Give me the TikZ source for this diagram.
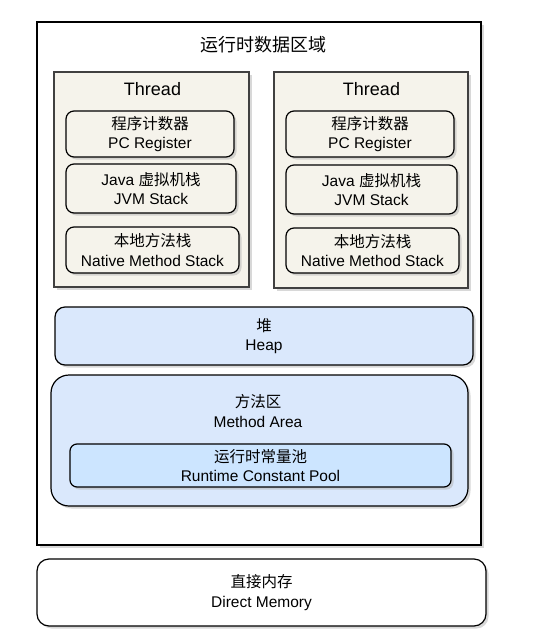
\documentclass[tikz,border=0pt]{standalone}
\usepackage{fontspec}
\setmainfont{Liberation Sans}
\newfontfamily\cjk{Noto Sans CJK SC}
\usetikzlibrary{shadows}
\definecolor{threadfill}{HTML}{F5F3EB}
\definecolor{heapfill}{HTML}{DAE8FC}
\definecolor{poolfill}{HTML}{CCE5FF}
\begin{document}
\begin{tikzpicture}[x=1pt,y=-1pt,
  box/.style={draw, line width=1.2pt, inner sep=0pt, align=center,
    font=\fontsize{15.5}{19.5}\selectfont,
    drop shadow={shadow xshift=2.5pt, shadow yshift=-2.5pt, fill=black!30}},
  threadbox/.style={box, draw=black!75, fill=threadfill},
  regbox/.style={box, fill=threadfill, rounded corners=8pt},
  heapbox/.style={box, fill=heapfill, rounded corners=10pt},
  poolbox/.style={box, fill=poolfill, rounded corners=7pt},
  bigtext/.style={font=\fontsize{18}{22}\selectfont},
  smalltext/.style={font=\fontsize{15.5}{19.5}\selectfont, align=center}]
  \useasboundingbox (0,0) rectangle (534,643);
  \node[box, fill=white, minimum width=444pt, minimum height=523pt] (rt) at (259,283.5) {};
  \node[bigtext] (rtlabel) at (263,44.5) {\cjk 运行时数据区域};
  \node[threadbox, minimum width=195pt, minimum height=215pt] (t1) at (151.5,179.5) {};
  \node[bigtext] (t1label) at (152.5,89.5) {Thread};
  \node[regbox, minimum width=168pt, minimum height=46pt] (pc1) at (150,134) {{\cjk 程序计数器}\\PC Register};
  \node[regbox, minimum width=170pt, minimum height=49pt] (jvm1) at (151,188.5) {Java {\cjk 虚拟机栈}\\JVM Stack};
  \node[regbox, minimum width=173pt, minimum height=46pt] (nat1) at (152.5,250) {{\cjk 本地方法栈}\\Native Method Stack};
  \node[threadbox, minimum width=194pt, minimum height=216pt] (t2) at (371,180) {};
  \node[bigtext] (t2label) at (371.5,89.5) {Thread};
  \node[regbox, minimum width=168pt, minimum height=46pt] (pc2) at (370,134) {{\cjk 程序计数器}\\PC Register};
  \node[regbox, minimum width=171pt, minimum height=49pt] (jvm2) at (371.5,189.5) {Java {\cjk 虚拟机栈}\\JVM Stack};
  \node[regbox, minimum width=173pt, minimum height=45pt] (nat2) at (372.5,250.5) {{\cjk 本地方法栈}\\Native Method Stack};
  \node[heapbox, minimum width=418pt, minimum height=58pt] (heap) at (264,336) {{\cjk 堆}\\Heap};
  \node[box, fill=heapfill, rounded corners=18pt, minimum width=417pt, minimum height=131pt] (method) at (259.5,440.5) {};
  \node[smalltext] (methodlabel) at (258,411) {{\cjk 方法区}\\Method Area};
  \node[poolbox, minimum width=381pt, minimum height=43pt] (pool) at (260.5,465.5) {{\cjk 运行时常量池}\\Runtime Constant Pool};
  \node[box, fill=white, rounded corners=12pt, minimum width=449pt, minimum height=67pt] (direct) at (261.5,592.5) {{\cjk 直接内存}\\Direct Memory};
\end{tikzpicture}
\end{document}
